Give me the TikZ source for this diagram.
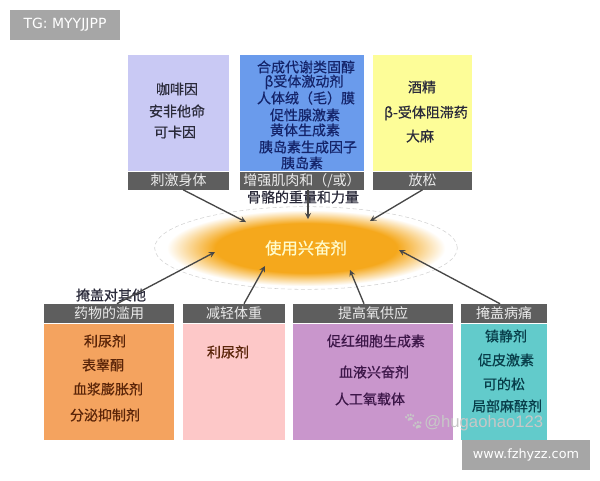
\documentclass[tikz,border=0pt]{standalone}
\usepackage{fontspec}
\usepackage{xcolor}
\setmainfont{Noto Sans CJK SC}
\newfontfamily\heavyfont[FakeBold=0.6]{Noto Sans CJK SC}
\newfontfamily\tagfont{DejaVu Sans}
\newfontfamily\markfont{Liberation Sans}
\newfontfamily\pawfont{Noto Emoji}
\usetikzlibrary{positioning}
\usetikzlibrary{shapes,arrows}

\definecolor{barcol}{HTML}{5E5E5E}
\definecolor{lavcol}{HTML}{C9C9F4}
\definecolor{bluecol}{HTML}{6A9BEC}
\definecolor{yelcol}{HTML}{FDFD98}
\definecolor{orgcol}{HTML}{F4A35F}
\definecolor{pinkcol}{HTML}{FDC8C8}
\definecolor{purcol}{HTML}{C996CC}
\definecolor{tealcol}{HTML}{62CBCB}
\definecolor{inkcol}{HTML}{2A2A3A}
\definecolor{navyink}{HTML}{14246A}
\definecolor{brownink}{HTML}{5A2408}
\definecolor{plumink}{HTML}{3C1648}
\definecolor{tealink}{HTML}{083E4A}
\definecolor{glowcol}{HTML}{F5A81C}
\pgfdeclareradialshading{glow}{\pgfpoint{0bp}{0bp}}{color(0bp)=(glowcol); color(15bp)=(glowcol); color(23bp)=(white); color(50bp)=(white)}

\tikzset{
  panel/.style={inner sep=0pt},
  headbar/.style={fill=barcol, text=white!92!black, inner sep=0pt, font=\fontsize{10.5}{12}\selectfont},
  item/.style={inner sep=0pt, text=#1, font=\heavyfont\fontsize{10.5}{12}\selectfont},
  item/.default=inkcol,
  stamp/.style={fill=black!35, text=white, inner sep=0pt},
  feed/.style={->, line width=1pt, black!72},
}

\begin{document}
\begin{tikzpicture}[x=0.75pt, y=-0.75pt, >=stealth]
    \useasboundingbox (0,0) rectangle (600,480);

    \node(use) [ellipse, shade, shading=glow, draw=black!18, densely dashed, inner sep=0pt, minimum width=227pt, minimum height=62pt, text=yellow!20!white, font=\heavyfont\fontsize{12.25}{14}\selectfont] at (306,248) {使用兴奋剂};

    \node(stimbody) [panel, fill=lavcol, minimum width=75.75pt, minimum height=87pt] at (178.5,113) {};
    \node(stimhead) [headbar, below = 0pt of stimbody, minimum width=75.75pt, minimum height=13.5pt] {刺激身体};
    \node(muscbody) [panel, fill=bluecol, minimum width=93pt, minimum height=87pt] at (302,113) {};
    \node(muschead) [headbar, below = 0pt of muscbody, minimum width=93pt, minimum height=13.5pt] {增强肌肉和（/或）};
    \node(relxbody) [panel, fill=yelcol, minimum width=74.25pt, minimum height=87pt] at (422.5,113) {};
    \node(relxhead) [headbar, below = 0pt of relxbody, minimum width=74.25pt, minimum height=13.5pt] {放松};

    \node(abushead) [headbar, minimum width=97.5pt, minimum height=14.25pt] at (109,313.5) {药物的滥用};
    \node(abusbody) [panel, fill=orgcol, below = 0pt of abushead, minimum width=97.5pt, minimum height=87pt] {};
    \node(losshead) [headbar, minimum width=76.5pt, minimum height=14.25pt] at (234,313.5) {减轻体重};
    \node(lossbody) [panel, fill=pinkcol, below = 0pt of losshead, minimum width=76.5pt, minimum height=87pt] {};
    \node(oxyhead) [headbar, minimum width=120pt, minimum height=14.25pt] at (373,313.5) {提高氧供应};
    \node(oxybody) [panel, fill=purcol, below = 0pt of oxyhead, minimum width=120pt, minimum height=87pt] {};
    \node(painhead) [headbar, minimum width=64.5pt, minimum height=14.25pt] at (504,313.5) {掩盖病痛};
    \node(painbody) [panel, fill=tealcol, below = 0pt of painhead, minimum width=64.5pt, minimum height=87pt] {};

    \node(caff) [item] at (177,89) {咖啡因};
    \node(amph) [item] at (177,111) {安非他命};
    \node(coca) [item] at (175,132) {可卡因};

    \node(anab) [item=navyink] at (306,67) {合成代谢类固醇};
    \node(beta) [item=navyink] at (304,82) {β受体激动剂};
    \node(hair) [item=navyink] at (306,98) {人体绒（毛）膜};
    \node(gona) [item=navyink] at (305,115) {促性腺激素};
    \node(lute) [item=navyink] at (305,130) {黄体生成素};
    \node(igf) [item=navyink] at (308,147) {胰岛素生成因子};
    \node(insu) [item=navyink] at (302,163) {胰岛素};
    \node(bone) [item] at (303,197) {骨骼的重量和力量};

    \node(alco) [item] at (422,87) {酒精};
    \node(bblk) [item] at (426,113) {β-受体阻滞药};
    \node(cann) [item] at (420,136) {大麻};

    \node(mask) [item] at (111,295) {掩盖对其他};
    \node(diur) [item=brownink] at (105,341) {利尿剂};
    \node(epit) [item=brownink] at (103,365) {表睾酮};
    \node(plas) [item=brownink] at (108,389) {血浆膨胀剂};
    \node(secr) [item=brownink] at (105,415) {分泌抑制剂};

    \node(diurb) [item=brownink] at (228,352) {利尿剂};

    \node(epo) [item=plumink] at (376,341) {促红细胞生成素};
    \node(blood) [item=plumink] at (374,372) {血液兴奋剂};
    \node(carr) [item=plumink] at (370,399) {人工氧载体};

    \node(sedv) [item=tealink] at (506,336) {镇静剂};
    \node(acth) [item=tealink] at (506,360) {促皮激素};
    \node(cort) [item=tealink] at (504,384) {可的松};
    \node(locl) [item=tealink] at (507,406) {局部麻醉剂};

    \coordinate(instim) at (246,222);
    \coordinate(inmusc) at (308,219);
    \coordinate(inrelx) at (370,221);
    \coordinate(inabus) at (215,252);
    \coordinate(inloss) at (265,266);
    \coordinate(inoxy) at (350,270);
    \coordinate(inpain) at (399,250);

    \draw [feed] ([xshift=3.5pt]stimhead.south) -- (instim);
    \draw [feed] ([xshift=4.5pt]muschead.south) -- (inmusc);
    \draw [feed] (relxhead.south) -- (inrelx);
    \draw [feed] ([xshift=6pt]abushead.north) -- (inabus);
    \draw [feed] ([xshift=7.5pt]losshead.north) -- (inloss);
    \draw [feed] ([xshift=-6.75pt]oxyhead.north) -- (inoxy);
    \draw [feed] ([xshift=-3pt]painhead.north) -- (inpain);

    \node(wmark) [inner sep=0pt, text=white!78!black, anchor=west, font=\fontsize{12.5}{15}\selectfont] at (402,422) {{\pawfont\fontsize{13}{14}\selectfont 🐾}{\markfont @hugaohao123}};

    \node(tagbox) [stamp, font=\tagfont\fontsize{10.5}{12}\selectfont, minimum width=82.5pt, minimum height=22.5pt] at (65,25) {TG: MYYJJPP};
    \node(sitebox) [stamp, font=\tagfont\fontsize{9.6}{12}\selectfont, minimum width=96pt, minimum height=22.5pt] at (526,455) {www.fzhyzz.com};
\end{tikzpicture}
\end{document}
